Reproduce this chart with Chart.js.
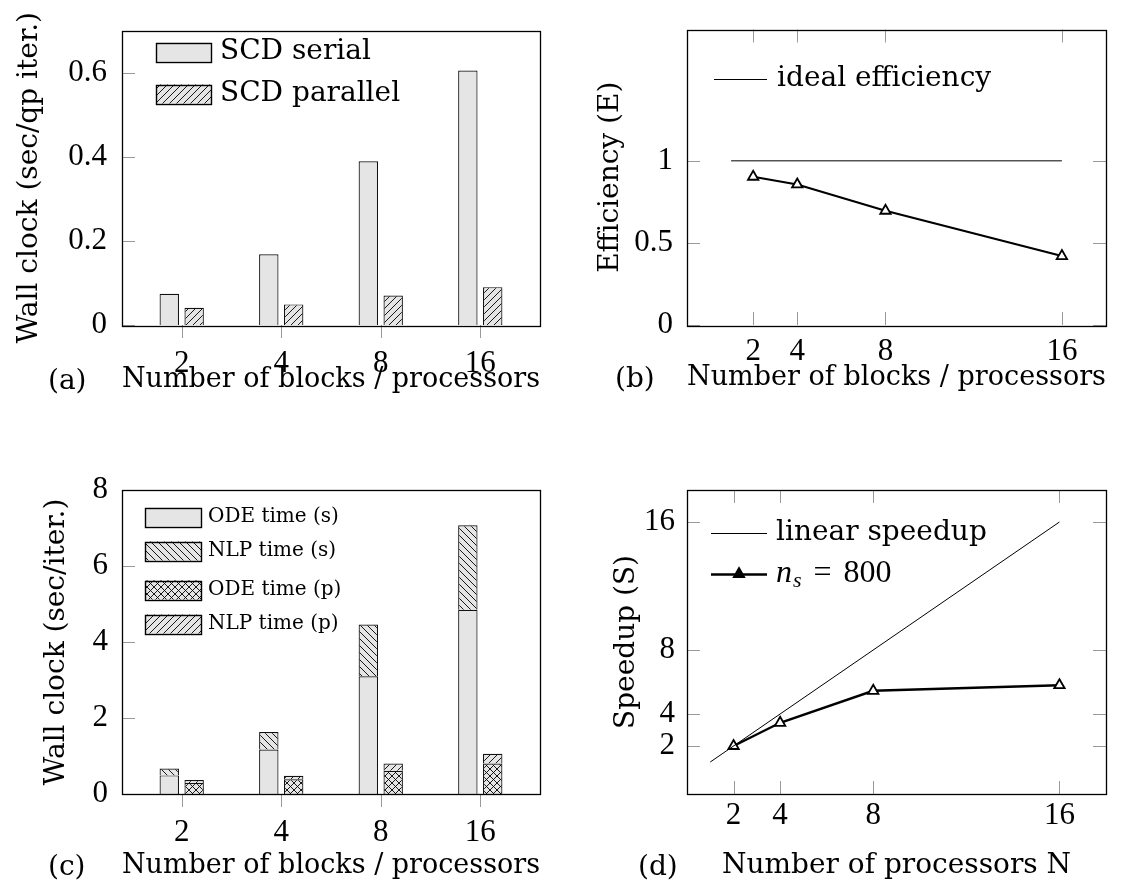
<!DOCTYPE html>
<html>
<head>
<meta charset="utf-8">
<script src="https://cdn.jsdelivr.net/npm/chart.js@4/dist/chart.umd.min.js"></script>
<style>
  body { margin: 0; background: #fff; width: 1125px; height: 894px; position: relative; overflow: hidden; }
  canvas { position: absolute; }
  .cap { position: absolute; font-family: 'DejaVu Serif'; font-size: 28px; line-height: 28px; color: #000; }
</style>
</head>
<body>
<canvas id="panelA" width="562" height="447" style="left:0;top:0"></canvas>
<canvas id="panelB" width="563" height="447" style="left:562px;top:0"></canvas>
<canvas id="panelC" width="562" height="447" style="left:0;top:447px"></canvas>
<canvas id="panelD" width="563" height="447" style="left:562px;top:447px"></canvas>
<div class="cap" style="left:48px;top:366px">(a)</div>
<div class="cap" style="left:615px;top:364px">(b)</div>
<div class="cap" style="left:48px;top:852px">(c)</div>
<div class="cap" style="left:638px;top:852px">(d)</div>
<script>
// ---- datos ----
const blocks = [2, 4, 8, 16];
const scdSerial = [0.074, 0.168, 0.389, 0.605];
const scdParallel = [0.041, 0.049, 0.070, 0.090];

const procs = [2, 4, 8, 16];
const efficiency = [0.903, 0.856, 0.696, 0.42];
const idealX = [1, 16];
const idealEff = [1, 1];

const odeSerial = [0.49, 1.17, 3.10, 4.85];
const nlpSerial = [0.18, 0.46, 1.36, 2.22];
const odeParallel = [0.29, 0.39, 0.61, 0.80];
const nlpParallel = [0.08, 0.09, 0.19, 0.26];

const speedup = [2.0, 3.45, 5.45, 5.8];
const linearX = [1, 16];
const linearS = [1, 16];

const wallTicksA = [0, 0.2, 0.4, 0.6];
const effTicks = [0, 0.5, 1];
const wallTicksC = [0, 2, 4, 6, 8];
const speedTicks = [2, 4, 8, 16];

const TXT = 'DejaVu Serif';
const NUM = 'Liberation Serif';
const GRIS = '#e5e5e5';

Chart.defaults.color = '#000';
Chart.defaults.font.family = TXT;

// rellenos rayados para las barras
function pattern(kind) {
  const s = 7;
  const c = document.createElement('canvas');
  c.width = s; c.height = s;
  const g = c.getContext('2d');
  g.fillStyle = GRIS;
  g.fillRect(0, 0, s, s);
  g.strokeStyle = '#000';
  g.lineWidth = 0.9;
  g.beginPath();
  if (kind === 'ne' || kind === 'cross') {
    g.moveTo(-1, s + 1); g.lineTo(s + 1, -1);
    g.moveTo(-1, 1); g.lineTo(1, -1);
    g.moveTo(s - 1, s + 1); g.lineTo(s + 1, s - 1);
  }
  if (kind === 'nw' || kind === 'cross') {
    g.moveTo(-1, -1); g.lineTo(s + 1, s + 1);
    g.moveTo(s - 1, -1); g.lineTo(s + 1, 1);
    g.moveTo(-1, s - 1); g.lineTo(1, s + 1);
  }
  g.stroke();
  return g.createPattern(c, 'repeat');
}

// marco negro y marcas de los ejes
const framePlugin = {
  id: 'frame',
  afterDatasetsDraw(chart, args, o) {
    const { ctx, chartArea: a, scales: { x, y } } = chart;
    const len = o.len || 13;
    ctx.save();
    ctx.strokeStyle = '#9a9a9a';
    ctx.lineWidth = 1;
    ctx.beginPath();
    y.ticks.forEach(t => {
      const py = Math.round(y.getPixelForValue(t.value)) + 0.5;
      ctx.moveTo(a.left, py); ctx.lineTo(a.left + len, py);
      if (o.mirror) { ctx.moveTo(a.right, py); ctx.lineTo(a.right - len, py); }
    });
    x.ticks.forEach(t => {
      const px = Math.round(x.getPixelForValue(t.value)) + 0.5;
      if (o.xOutside) { ctx.moveTo(px, a.bottom); ctx.lineTo(px, a.bottom + len); }
      else { ctx.moveTo(px, a.bottom); ctx.lineTo(px, a.bottom - len); }
      if (o.mirror) { ctx.moveTo(px, a.top); ctx.lineTo(px, a.top + len); }
    });
    ctx.stroke();
    ctx.strokeStyle = '#000';
    ctx.lineWidth = 1.3;
    ctx.strokeRect(Math.round(a.left) + 0.5, Math.round(a.top) + 0.5,
      Math.round(a.right - a.left), Math.round(a.bottom - a.top));
    ctx.restore();
  }
};

function triangle(ctx, x, y, r, fill) {
  ctx.beginPath();
  ctx.moveTo(x, y - r);
  ctx.lineTo(x + r * 0.866, y + r / 2);
  ctx.lineTo(x - r * 0.866, y + r / 2);
  ctx.closePath();
  ctx.fillStyle = fill;
  ctx.fill();
  ctx.lineWidth = 1.8;
  ctx.strokeStyle = '#000';
  ctx.stroke();
}

// texto con subíndice (n_s)
function labelText(ctx, txt, x, y, size) {
  if (!txt.includes('_')) {
    ctx.font = size + 'px ' + TXT;
    ctx.fillText(txt, x, y);
    return;
  }
  const m = size + 4;
  const [base, rest] = txt.split('_');
  const sub = rest.charAt(0);
  const [lhs, rhs] = rest.slice(1).split('=');
  ctx.font = 'italic ' + m + 'px ' + NUM;
  ctx.fillText(base, x, y);
  x += ctx.measureText(base).width;
  ctx.font = 'italic ' + Math.round(m * 0.7) + 'px ' + NUM;
  ctx.fillText(sub, x + 1, y + m * 0.22);
  x += ctx.measureText(sub).width + 1 + 12;
  ctx.font = m + 'px ' + NUM;
  ctx.fillText('=', x, y);
  x += ctx.measureText('=').width + 12;
  ctx.fillText(rhs.trim(), x, y);
}

// leyenda dentro del área del gráfico
const keyPlugin = {
  id: 'key',
  afterDraw(chart, args, o) {
    const ctx = chart.ctx;
    ctx.save();
    ctx.textBaseline = 'middle';
    o.rows.forEach(r => {
      const ds = chart.data.datasets[r.index];
      if (o.kind === 'box') {
        ctx.fillStyle = ds.backgroundColor;
        ctx.fillRect(o.x0, r.y - o.h / 2, o.x1 - o.x0, o.h);
        ctx.strokeStyle = '#000';
        ctx.lineWidth = 1.4;
        ctx.strokeRect(o.x0 + 0.5, Math.round(r.y - o.h / 2) + 0.5, o.x1 - o.x0, o.h);
      } else {
        ctx.strokeStyle = ds.borderColor;
        ctx.lineWidth = ds.borderWidth;
        ctx.beginPath();
        ctx.moveTo(o.x0, r.y + 0.5); ctx.lineTo(o.x1, r.y + 0.5);
        ctx.stroke();
        if (ds.pointRadius > 0) triangle(ctx, (o.x0 + o.x1) / 2, r.y, ds.pointRadius, '#000');
      }
      ctx.fillStyle = '#000';
      labelText(ctx, ds.label, o.textX, r.y, o.size);
    });
    ctx.restore();
  }
};

function tickFont() { return { family: NUM, size: 31, lineHeight: 1 }; }
function titleFont() { return { family: TXT, size: 28, lineHeight: 1 }; }
const plain = v => String(v);

function panel(id, frame, cfg) {
  const el = document.getElementById(id);
  const W = el.width, H = el.height;
  const x = Object.assign({
    type: 'linear',
    offset: false,
    grid: { display: false, drawTicks: false },
    border: { display: false },
    afterFit: s => { s.height = H - frame.B; }
  }, cfg.x);
  x.ticks = Object.assign({ font: tickFont(), autoSkip: false, maxRotation: 0, callback: plain }, cfg.x.ticks);
  x.title = { display: true, text: cfg.xTitle, font: titleFont(), padding: { top: 0, bottom: cfg.xTitlePad } };
  const y = Object.assign({
    type: 'linear',
    grid: { display: false, drawTicks: false },
    border: { display: false },
    afterFit: s => { s.width = frame.L; }
  }, cfg.y);
  y.ticks = Object.assign({ font: tickFont(), autoSkip: false, callback: plain }, cfg.y.ticks);
  y.title = { display: true, text: cfg.yTitle, font: titleFont(), padding: { top: cfg.yTitlePad, bottom: 0 } };

  return new Chart(el, {
    type: cfg.type,
    data: { datasets: cfg.datasets },
    options: {
      responsive: false,
      animation: false,
      events: [],
      devicePixelRatio: 1,
      layout: { padding: { left: 0, top: frame.T, right: W - frame.R, bottom: 0 } },
      scales: { x, y },
      plugins: {
        legend: { display: false },
        tooltip: { enabled: false },
        frame: cfg.frame,
        key: cfg.key
      }
    },
    plugins: [framePlugin, keyPlugin]
  });
}

const idx = blocks.map((b, i) => i);
const pts = (xs, ys) => xs.map((v, i) => ({ x: v, y: ys[i] }));
const barX = (ticksPad) => ({
  min: -0.6, max: 3.6,
  afterBuildTicks: s => { s.ticks = idx.map(v => ({ value: v })); },
  ticks: { callback: v => String(blocks[v]), padding: ticksPad }
});
const barStyle = { borderColor: '#111', borderWidth: 1.2, categoryPercentage: 0.5, barPercentage: 0.78 };
const markStyle = { pointStyle: 'triangle', pointRadius: 6, pointBackgroundColor: '#fff',
  pointBorderColor: '#000', pointBorderWidth: 1.8 };

// (a) tiempo por iteración SCD
panel('panelA', { L: 122, T: 21, R: 540, B: 325 }, {
  type: 'bar',
  xTitle: 'Number of blocks / processors', xTitlePad: 53,
  yTitle: 'Wall clock (sec/qp iter.)', yTitlePad: 16,
  x: barX(23),
  y: {
    min: 0, max: 0.7,
    afterBuildTicks: s => { s.ticks = wallTicksA.map(v => ({ value: v })); },
    ticks: { padding: 15 }
  },
  datasets: [
    Object.assign({ label: 'SCD serial', data: pts(idx, scdSerial), backgroundColor: GRIS }, barStyle),
    Object.assign({ label: 'SCD parallel', data: pts(idx, scdParallel), backgroundColor: pattern('ne') }, barStyle)
  ],
  frame: { xOutside: true, mirror: false },
  key: { kind: 'box', x0: 156, x1: 211, h: 19, textX: 220, size: 28, rows: [{ index: 0, y: 52 }, { index: 1, y: 94 }] }
});

// (b) eficiencia
panel('panelB', { L: 125, T: 21, R: 544, B: 325 }, {
  type: 'line',
  xTitle: 'Number of blocks / processors', xTitlePad: 55,
  yTitle: 'Efficiency (E)', yTitlePad: 35,
  x: {
    min: -1, max: 18,
    afterBuildTicks: s => { s.ticks = procs.map(v => ({ value: v })); },
    ticks: { padding: 11 }
  },
  y: {
    min: 0, max: 1.8,
    afterBuildTicks: s => { s.ticks = effTicks.map(v => ({ value: v })); },
    ticks: { padding: 14 }
  },
  datasets: [
    { label: 'ideal efficiency', data: pts(idealX, idealEff), borderColor: '#000', borderWidth: 1, pointRadius: 0 },
    Object.assign({ label: 'efficiency', data: pts(procs, efficiency), borderColor: '#000', borderWidth: 2.2 }, markStyle)
  ],
  frame: { xOutside: false, mirror: true },
  key: { kind: 'line', x0: 152, x1: 205, textX: 215, size: 28, rows: [{ index: 0, y: 79 }] }
});

// (c) desglose ODE / NLP
panel('panelC', { L: 122, T: 43, R: 540, B: 347 }, {
  type: 'bar',
  xTitle: 'Number of blocks / processors', xTitlePad: 14,
  yTitle: 'Wall clock (sec/iter.)', yTitlePad: 43,
  x: Object.assign(barX(23), { stacked: true }),
  y: {
    min: 0, max: 8, stacked: true,
    afterBuildTicks: s => { s.ticks = wallTicksC.map(v => ({ value: v })); },
    ticks: { padding: 14 }
  },
  datasets: [
    Object.assign({ label: 'ODE time (s)', stack: 's', data: pts(idx, odeSerial), backgroundColor: GRIS }, barStyle),
    Object.assign({ label: 'NLP time (s)', stack: 's', data: pts(idx, nlpSerial), backgroundColor: pattern('nw') }, barStyle),
    Object.assign({ label: 'ODE time (p)', stack: 'p', data: pts(idx, odeParallel), backgroundColor: pattern('cross') }, barStyle),
    Object.assign({ label: 'NLP time (p)', stack: 'p', data: pts(idx, nlpParallel), backgroundColor: pattern('ne') }, barStyle)
  ],
  frame: { xOutside: true, mirror: false },
  key: { kind: 'box', x0: 145, x1: 201, h: 19, textX: 208, size: 20,
    rows: [{ index: 0, y: 70 }, { index: 1, y: 104 }, { index: 2, y: 143 }, { index: 3, y: 177 }] }
});

// (d) speedup
panel('panelD', { L: 125, T: 43, R: 544, B: 347 }, {
  type: 'line',
  xTitle: 'Number of processors N', xTitlePad: 14,
  yTitle: 'Speedup (S)', yTitlePad: 51,
  x: {
    min: 0, max: 18,
    afterBuildTicks: s => { s.ticks = procs.map(v => ({ value: v })); },
    ticks: { padding: 6 }
  },
  y: {
    min: -1, max: 18,
    afterBuildTicks: s => { s.ticks = speedTicks.map(v => ({ value: v })); },
    ticks: { padding: 12 }
  },
  datasets: [
    { label: 'linear speedup', data: pts(linearX, linearS), borderColor: '#000', borderWidth: 1, pointRadius: 0 },
    Object.assign({ label: 'n_s = 800', data: pts(procs, speedup), borderColor: '#000', borderWidth: 2.4 }, markStyle)
  ],
  frame: { xOutside: false, mirror: true },
  key: { kind: 'line', x0: 149, x1: 205, textX: 214, size: 28, rows: [{ index: 0, y: 86 }, { index: 1, y: 127 }] }
});
</script>
</body>
</html>
